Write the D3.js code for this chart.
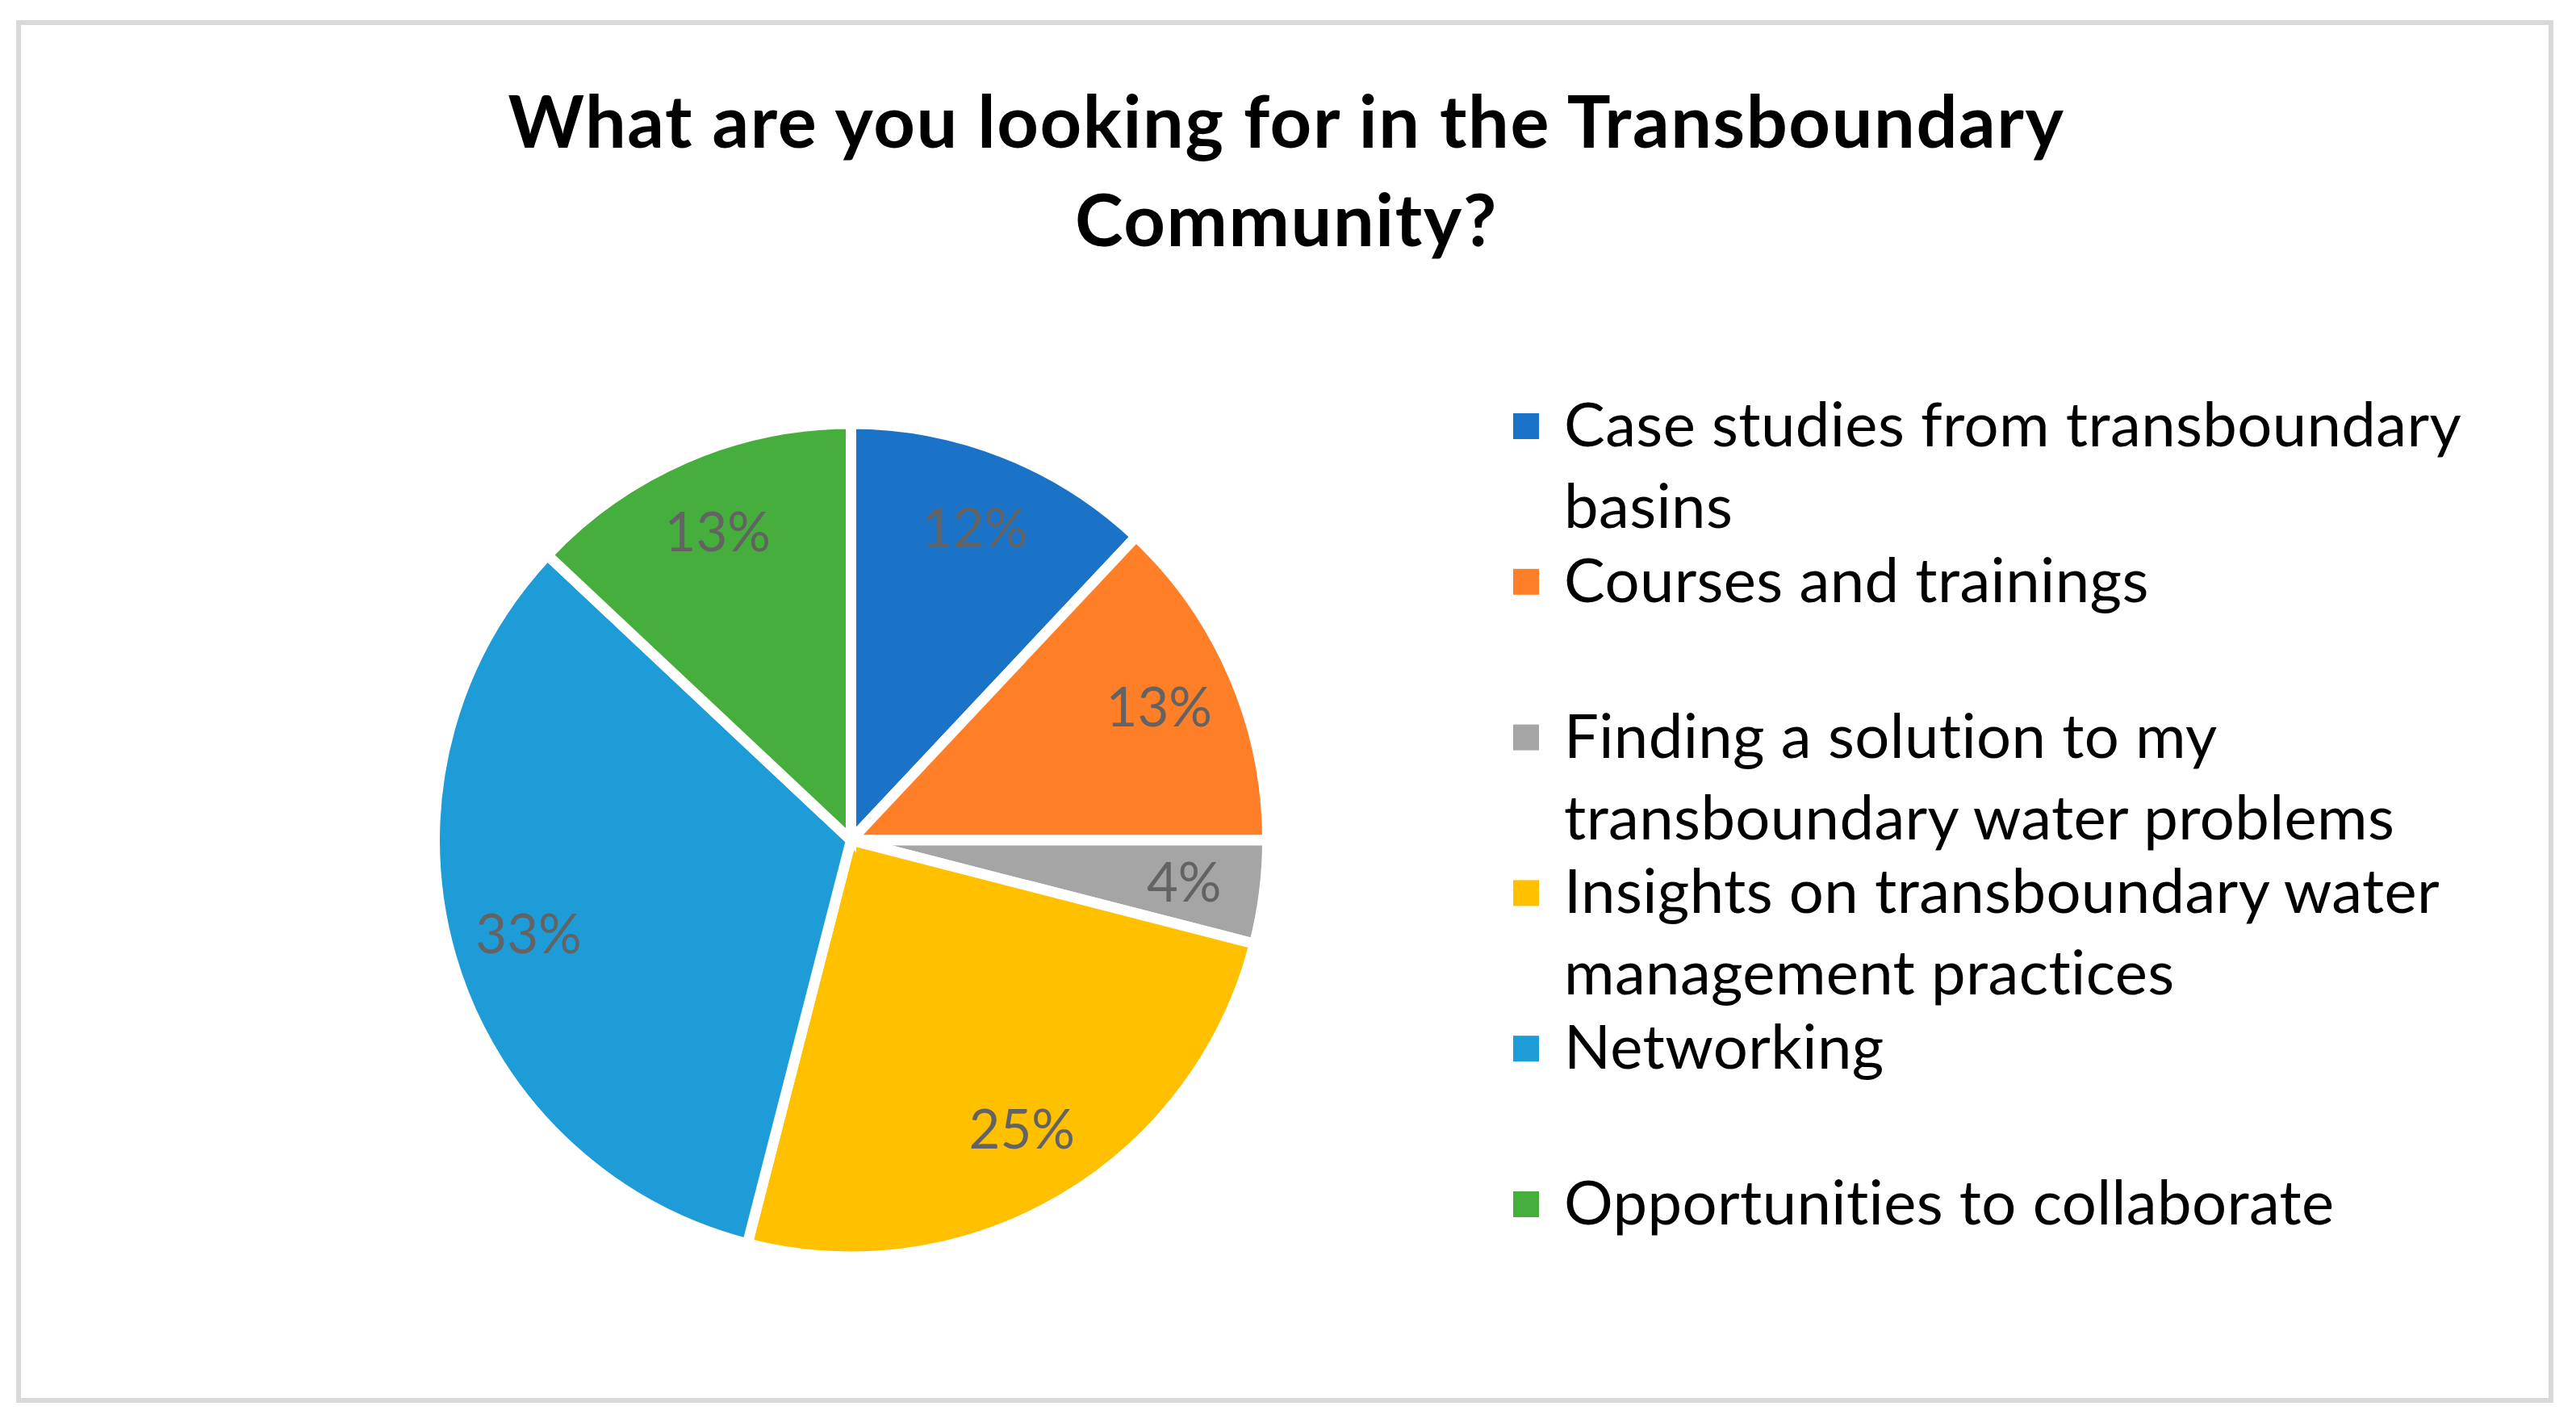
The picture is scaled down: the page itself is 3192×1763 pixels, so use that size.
<!DOCTYPE html>
<html>
<head>
<meta charset="utf-8">
<script src="https://cdn.jsdelivr.net/npm/d3@7"></script>
<style>
    body { margin: 0; background: #fff; }
    svg text { font-family: Lato, "Open Sans", sans-serif; font-variant-ligatures: none; }
</style>
</head>
<body>
<div class="canvas"></div>
<script>

// data
const legendLines = [
    ['Case studies from transboundary', 'basins'],
    ['Courses and trainings'],
    ['Finding a solution to my', 'transboundary water problems'],
    ['Insights on transboundary water', 'management practices'],
    ['Networking'],
    ['Opportunities to collaborate']
];
const categories = legendLines.map(l => l.join(' '));
const shares = [12, 13, 4, 25, 33, 13];
const sliceColors = ['#1a73c7', '#fe7f27', '#a5a5a5', '#ffc000', '#1e9cd8', '#46ae3c'];
const titleLines = ['What are you looking for in the Transboundary', 'Community?'];

const data = categories.map((name, i) => ({ name, value: shares[i] }));

const dimensions = {
    width: 3192,
    height: 1763,
    radius: 516
};

const center = { x: 1054.5, y: 1041 };

const svg = d3.select('.canvas')
                .append('svg')
                .attr('width', dimensions.width)
                .attr('height', dimensions.height);

// chart frame
svg.append('rect')
    .attr('x', 23)
    .attr('y', 28)
    .attr('width', 3138)
    .attr('height', 1707)
    .attr('fill', '#fff')
    .attr('stroke', '#d9d9d9')
    .attr('stroke-width', 6);

// title
svg.append('g')
    .selectAll('text')
    .data(titleLines)
    .enter()
    .append('text')
        .attr('x', 1594)
        .attr('y', (d, i) => 183 + i * 122)
        .attr('text-anchor', 'middle')
        .attr('font-size', 90)
        .attr('font-weight', 'bold')
        .attr('letter-spacing', 1.6)
        .attr('fill', '#000')
        .text(d => d);

const colors = d3.scaleOrdinal()
                .domain(categories)
                .range(sliceColors);

const pie = d3.pie()
                .sort(null)
                .value(d => d.value);

const arcPath = d3.arc()
                    .outerRadius(dimensions.radius)
                    .innerRadius(0);

const labelArc = d3.arc()
                    .outerRadius(416 * 2)
                    .innerRadius(0);

const graph = svg.append('g')
                .attr('transform', `translate(${center.x}, ${center.y})`);

graph.selectAll('path')
    .data(pie(data))
    .enter()
    .append('path')
        .attr('d', arcPath)
        .attr('fill', d => colors(d.data.name))
        .attr('stroke', '#fff')
        .attr('stroke-width', 13)
        .attr('stroke-linejoin', 'miter');

// percentage labels (centroid of an arc with outer radius 2r sits at r)
graph.selectAll('text.pct')
    .data(pie(data))
    .enter()
    .append('text')
        .attr('class', 'pct')
        .attr('transform', d => `translate(${labelArc.centroid(d)})`)
        .attr('dy', 24)
        .attr('text-anchor', 'middle')
        .attr('font-size', 67)
        .attr('fill', '#636363')
        .text(d => d.data.value + '%');

// legend
const legendGroup = svg.append('g')
                    .attr('transform', 'translate(1875, 553)');

const entries = legendGroup.selectAll('g')
                    .data(legendLines)
                    .enter()
                    .append('g')
                        .attr('transform', (d, i) => `translate(0, ${i * 192.8})`);

entries.append('rect')
    .attr('x', 0)
    .attr('y', -41)
    .attr('width', 32)
    .attr('height', 32)
    .attr('fill', (d, i) => colors(categories[i]));

entries.append('text')
    .attr('font-size', 76)
    .attr('letter-spacing', 0.4)
    .attr('fill', '#000')
    .selectAll('tspan')
    .data(d => d)
    .enter()
    .append('tspan')
        .attr('x', 63)
        .attr('y', (d, i) => i * 101)
        .text(d => d);

</script>
</body>
</html>
